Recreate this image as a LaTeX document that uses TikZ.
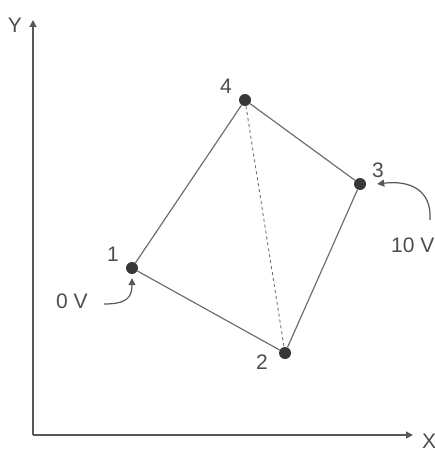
\documentclass[tikz,border=0pt]{standalone}
\usepackage{fontspec}
\setmainfont{Liberation Sans}
\usetikzlibrary{arrows.meta}
\definecolor{lignegris}{RGB}{110,110,110}
\definecolor{noeudgris}{RGB}{55,55,55}

\begin{document}
\begin{tikzpicture}[x=1pt, y=-1pt,
    lien/.style={draw=lignegris, line width=1.2pt},
    sommet/.style={circle, fill=noeudgris, inner sep=0pt, minimum size=12pt},
    etiq/.style={text=lignegris!70!black, font=\fontsize{21}{23}\selectfont, inner sep=0pt},
    fleche/.style={draw=lignegris!80!black, line width=1.2pt, -{Triangle[length=7pt, width=7pt]}}]
    \useasboundingbox (0,0) rectangle (435,452);

    % Axes
    \coordinate (O) at (33,435);
    \coordinate (xfin) at (413,435);
    \coordinate (yfin) at (33,20);
    \draw[fleche] (O) -- (xfin);
    \draw[fleche] (O) -- (yfin);
    \node[etiq] (xlab) at (429,441) {X};
    \node[etiq] (ylab) at (15,25) {Y};

    % Sommets
    \node[sommet] (n1) at (132,268) {};
    \node[sommet] (n2) at (285,353) {};
    \node[sommet] (n3) at (360,184) {};
    \node[sommet] (n4) at (245,100) {};
    \node[etiq] (l1) at (113,254) {1};
    \node[etiq] (l2) at (262,362) {2};
    \node[etiq] (l3) at (378,170) {3};
    \node[etiq] (l4) at (226,86) {4};

    % Aretes
    \draw[lien] (n1) -- (n4) -- (n3) -- (n2) -- (n1);
    \draw[lien, dashed, line width=0.9pt] (n4) -- (n2);

    % Potentiels imposes
    \node[etiq] (v0) at (72,301) {0 V};
    \node[etiq, anchor=west] (v10) at (391,245) {10 V};
    \coordinate (d0) at (104,304);
    \coordinate (d10) at (430,220);
    \draw[fleche] (d0) .. controls (126,304) and (132,298) .. ([yshift=-4pt]n1.south);
    \draw[fleche] (d10) .. controls (432,190) and (410,180) .. ([xshift=11pt]n3.east);
\end{tikzpicture}
\end{document}
